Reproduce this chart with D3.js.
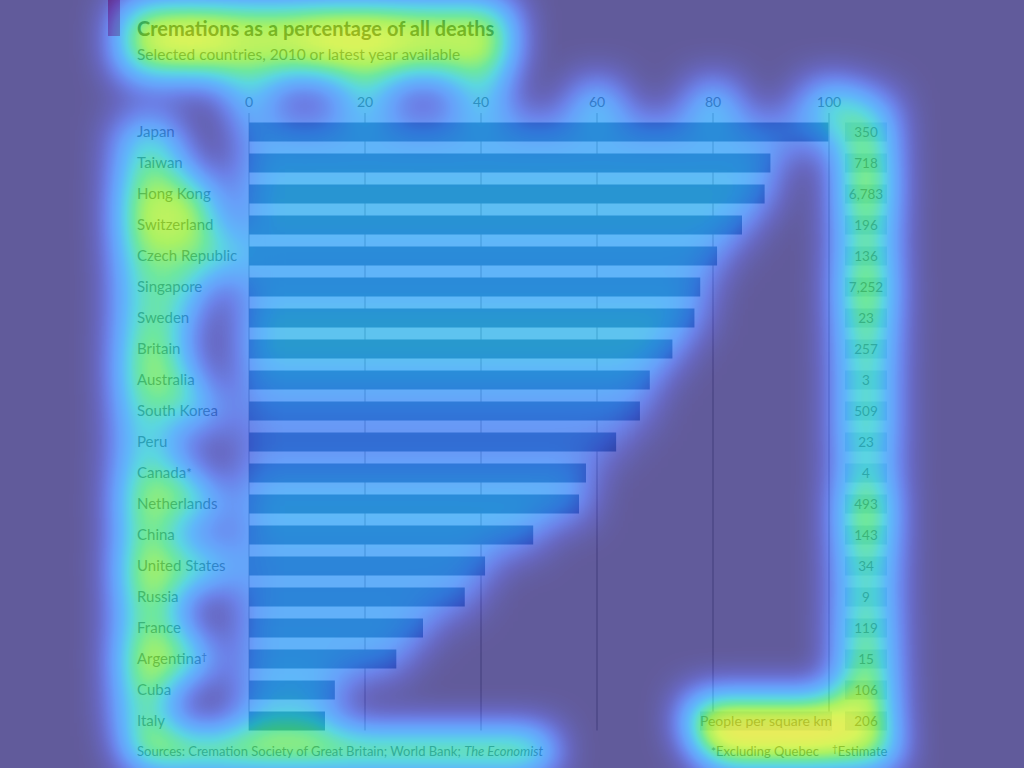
<!DOCTYPE html>
<html><head><meta charset="utf-8">
<script src="https://cdn.jsdelivr.net/npm/d3@7"></script>
<style>body{margin:0;background:#fff}svg{display:block}</style>
</head><body>
<svg id="c" width="1024" height="768"></svg>
<script>
// ---- data ----
const countries = ["Japan","Taiwan","Hong Kong","Switzerland","Czech Republic","Singapore","Sweden","Britain","Australia","South Korea","Peru","Canada*","Netherlands","China","United States","Russia","France","Argentina†","Cuba","Italy"];
const cremationPct = [99.9,89.9,88.9,85.0,80.7,77.8,76.8,73.0,69.1,67.4,63.3,58.1,56.9,49.0,40.7,37.2,30.0,25.4,14.8,13.1];
const density = ["350","718","6,783","196","136","7,252","23","257","3","509","23","4","493","143","34","9","119","15","106","206"];
const xTicks = [0,20,40,60,80,100];
// attention-overlay intensity per row (0..1)
const barHeat = [0.36,0.4,0.44,0.42,0.38,0.38,0.44,0.46,0.38,0.3,0.24,0.33,0.44,0.38,0.36,0.36,0.38,0.38,0.42,0.42];
const labelHeat = [0.52,0.6,0.74,0.78,0.66,0.58,0.6,0.68,0.7,0.58,0.52,0.6,0.74,0.6,0.78,0.66,0.62,0.8,0.66,0.6];
const densityHeat = [0.64,0.72,0.76,0.66,0.66,0.76,0.68,0.64,0.6,0.62,0.6,0.54,0.76,0.7,0.62,0.6,0.66,0.68,0.76,0.8];

const titleText = "Cremations as a percentage of all deaths";
const subtitleText = "Selected countries, 2010 or latest year available";
const sourceText = "Sources: Cremation Society of Great Britain; World Bank; ";
const sourceItalic = "The Economist";
const legendText = "People per square km";

const FONT = "Lato, 'Open Sans', sans-serif";
const svg = d3.select("#c");
const W = 1024, H = 768;

const x = d3.scaleLinear().domain([0,100]).range([249,829]);
const y = d3.scaleBand().domain(countries).range([122.5,730.5]).paddingInner(12/31).paddingOuter(0);

const chart = svg.append("g");
chart.append("rect").attr("width",W).attr("height",H).attr("fill","#fff");
// red tag
chart.append("rect").attr("x",108).attr("y",0).attr("width",12).attr("height",36).attr("fill","#f06070");

const title = chart.append("text").attr("x",137).attr("y",36).attr("font-family",FONT).attr("font-weight",700)
  .attr("font-size",20).attr("fill","#555").text(titleText);
const subtitle = chart.append("text").attr("x",137).attr("y",60).attr("font-family",FONT)
  .attr("font-size",15.5).attr("fill","#777").text(subtitleText);

// gridlines
chart.append("g").selectAll("line").data(xTicks).join("line")
  .attr("x1",d=>x(d)).attr("x2",d=>x(d)).attr("y1",113).attr("y2",y.range()[1])
  .attr("stroke","#b8b8b8").attr("stroke-width",1.2);
const tickLabels = chart.append("g").selectAll("text").data(xTicks).join("text")
  .attr("x",d=>x(d)).attr("y",107).attr("text-anchor","middle").attr("font-family",FONT)
  .attr("font-size",14).attr("fill","#7a7a7a").text(d=>d);

// bars
chart.append("g").selectAll("rect").data(countries).join("rect")
  .attr("x",x(0)).attr("y",d=>y(d)).attr("height",y.bandwidth())
  .attr("width",(d,i)=>x(cremationPct[i])-x(0)).attr("fill","#698ba4");

// labels
const labels = chart.append("g").selectAll("text").data(countries).join("text")
  .attr("x",137).attr("y",d=>y(d)+y.bandwidth()/2+5).attr("font-family",FONT)
  .attr("font-size",15).attr("fill","#7a7a7a");
labels.each(function(d){
  const m = d.match(/^(.*?)([*†]?)$/);
  const t = d3.select(this);
  t.append("tspan").text(m[1]);
  if (m[2]) t.append("tspan").attr("font-size", m[2]==="†"?10:13).attr("dy",m[2]==="†"?-4:0).text(m[2]);
});

// density boxes
const dg = chart.append("g");
dg.selectAll("rect").data(countries).join("rect")
  .attr("x",845).attr("width",42).attr("y",d=>y(d)).attr("height",y.bandwidth()).attr("fill","#d6e6ee");
dg.selectAll("text").data(countries).join("text")
  .attr("x",866).attr("y",d=>y(d)+y.bandwidth()/2+5).attr("text-anchor","middle")
  .attr("font-family",FONT).attr("font-size",13.5).attr("fill","#7a7a7a").text((d,i)=>density[i]);
const lastY = y(countries[countries.length-1]);
chart.append("rect").attr("x",700).attr("width",132).attr("y",lastY).attr("height",y.bandwidth()).attr("fill","#d6e6ee");
const legend = chart.append("text").attr("x",766).attr("y",lastY+y.bandwidth()/2+5).attr("text-anchor","middle")
  .attr("font-family",FONT).attr("font-size",14).attr("fill","#7a7a7a").text(legendText);

// footer
const source = chart.append("text").attr("x",137).attr("y",756).attr("font-family",FONT).attr("font-size",13).attr("fill","#7a7a7a");
source.append("tspan").text(sourceText);
source.append("tspan").attr("font-style","italic").text(sourceItalic);
const foot1 = chart.append("text").attr("x",711).attr("y",756).attr("font-family",FONT).attr("font-size",13).attr("fill","#7a7a7a");
foot1.append("tspan").attr("font-size",12).text("*");
foot1.append("tspan").text("Excluding Quebec");
const foot2 = chart.append("text").attr("x",832).attr("y",756).attr("font-family",FONT).attr("font-size",13).attr("fill","#7a7a7a");
foot2.append("tspan").attr("font-size",10).attr("dy",-4).text("†");
foot2.append("tspan").attr("dy",4).text("Estimate");

// ---- attention heat overlay ----
const defs = svg.append("defs");
const f = defs.append("filter").attr("id","heat").attr("filterUnits","userSpaceOnUse")
  .attr("x",0).attr("y",0).attr("width",W).attr("height",H).attr("color-interpolation-filters","sRGB");
f.append("feGaussianBlur").attr("in","SourceGraphic").attr("stdDeviation",20).attr("result","b");
f.append("feFlood").attr("flood-color","#000").attr("result","k");
const mg = f.append("feMerge").attr("result","m");
mg.append("feMergeNode").attr("in","k"); mg.append("feMergeNode").attr("in","b");
const ct = f.append("feComponentTransfer").attr("in","m");
ct.append("feFuncR").attr("type","table").attr("tableValues","0.039 0.075 0.098 0.075 0.027 0 0.11 0.478 0.757 0.91 0.969");
ct.append("feFuncG").attr("type","table").attr("tableValues","0 0.082 0.235 0.42 0.565 0.753 0.859 0.922 0.937 0.878 0.663");
ct.append("feFuncB").attr("type","table").attr("tableValues","0.392 0.631 0.859 0.969 0.969 0.816 0.42 0.051 0 0 0");

const overlay = svg.append("g").attr("opacity",0.64);
const heat = overlay.append("g").attr("filter","url(#heat)");
const step = y.step();
function blob(bb, px, py, op){
  heat.append("rect").attr("x",bb.x-px).attr("y",bb.y-py).attr("width",bb.width+2*px)
    .attr("height",bb.height+2*py).attr("rx",Math.min(px,py)).attr("fill","#fff").attr("fill-opacity",op);
}
// bars
heat.append("g").selectAll("rect").data(countries).join("rect")
  .attr("x",x(0)-10).attr("width",(d,i)=>x(cremationPct[i])-x(0)+18)
  .attr("y",d=>y(d)-(step-y.bandwidth())/2).attr("height",step)
  .attr("fill","#fff").attr("fill-opacity",(d,i)=>barHeat[i]);
// labels
labels.each(function(d,i){
  const bb = this.getBBox();
  heat.append("rect").attr("x",bb.x-20).attr("width",bb.width+24)
    .attr("y",y(d)-(step-y.bandwidth())/2).attr("height",step)
    .attr("fill","#fff").attr("fill-opacity",labelHeat[i]);
});
// density column
heat.append("g").selectAll("rect").data(countries).join("rect")
  .attr("x",838).attr("width",56).attr("y",d=>y(d)-(step-y.bandwidth())/2).attr("height",step)
  .attr("fill","#fff").attr("fill-opacity",(d,i)=>densityHeat[i]);
heat.append("rect").attr("x",838).attr("width",56).attr("y",y.range()[0]-30).attr("height",30)
  .attr("fill","#fff").attr("fill-opacity",0.45);
// tick labels
tickLabels.each(function(){ blob(this.getBBox(), 16, 10, 0.55); });
// title/subtitle (one attention region plus two hot spots)
const tb = title.node().getBBox(), sb = subtitle.node().getBBox();
const head = {x: tb.x, y: tb.y, width: Math.max(tb.width, sb.width), height: sb.y + sb.height - tb.y};
blob(head, 20, 16, 0.76);
blob({x: tb.x + tb.width*0.08, y: tb.y, width: tb.width*0.14, height: head.height}, 10, 6, 0.35);
blob({x: tb.x + tb.width*0.5, y: tb.y, width: tb.width*0.2, height: head.height}, 10, 6, 0.35);
// legend & footer
blob(legend.node().getBBox(), 14, 16, 0.92);
blob(source.node().getBBox(), 10, 10, 0.85);
blob(foot1.node().getBBox(), 10, 10, 0.85);
blob(foot2.node().getBBox(), 10, 10, 0.8);
</script>
</body></html>
